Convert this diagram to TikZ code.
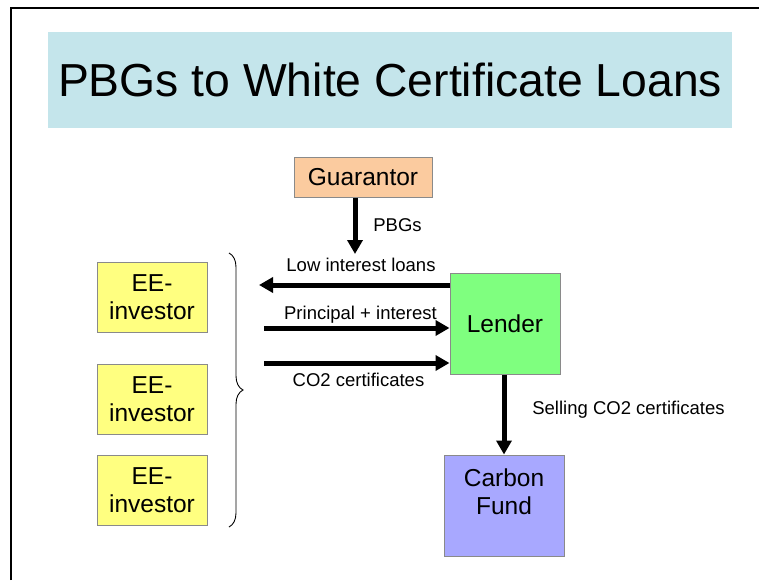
\documentclass[tikz,border=0pt]{standalone}
\usepackage{fontspec}
\setmainfont{Liberation Sans}
\usetikzlibrary{arrows.meta,decorations.pathreplacing}
\definecolor{titlebg}{HTML}{C4E5EB}
\definecolor{guarfill}{HTML}{FBCB9F}
\definecolor{lendfill}{HTML}{7FFF7F}
\definecolor{eefill}{HTML}{FFFF80}
\definecolor{cfill}{HTML}{A8A8FF}
\definecolor{boxline}{HTML}{8A8A8A}
\tikzset{
  box/.style={draw=boxline, line width=1pt, inner sep=0pt, align=center},
  flow/.style={line width=5pt, -{Triangle[length=14pt,width=15pt]}, shorten >=0pt},
  lbl/.style={font=\fontsize{18.5}{22}\selectfont, inner sep=0pt},
  big/.style={font=\fontsize{24.5}{28}\selectfont},
}
\begin{document}
\begin{tikzpicture}[x=1pt,y=-1pt]
\useasboundingbox (0,0) rectangle (759,580);
\fill[white] (0,0) rectangle (759,580);
% frame
\draw[line width=2pt] (11,580) -- (11,8) -- (759,8);
% title
\node[fill=titlebg, minimum width=684pt, minimum height=96pt, inner sep=0pt,
      font=\fontsize{46.3}{50}\selectfont] (title) at (390,80) {PBGs to White Certificate Loans};
% boxes
\node[box, fill=guarfill, minimum width=138pt, minimum height=39pt, big] (guar) at (363,177.5) {Guarantor};
\node[box, fill=lendfill, minimum width=110pt, minimum height=101pt, big] (lender) at (505,323.5) {Lender};
\node[box, fill=cfill, minimum width=120pt, minimum height=101pt] (carbon) at (504,505.5) {};
\node[big, align=center, inner sep=0pt] (ctext) at (504,492) {Carbon\\Fund};
\node[box, fill=eefill, minimum width=110pt, minimum height=70pt, big] (ee1) at (152,297) {EE-\\investor};
\node[box, fill=eefill, minimum width=110pt, minimum height=70pt, big] (ee2) at (152,399) {EE-\\investor};
\node[box, fill=eefill, minimum width=110pt, minimum height=70pt, big] (ee3) at (152,490) {EE-\\investor};
% brace
\coordinate (btop) at (229,253);
\coordinate (bbot) at (229,527);
\draw[line width=0.9pt, decorate, decoration={brace, amplitude=14pt}] (btop) -- (bbot);
% connector ends
\coordinate (pbgend) at (355,254);
\coordinate (lowend) at (259,285);
\coordinate (prstart) at (264,328);
\coordinate (costart) at (264,363);
% arrows
\draw[flow] (guar.south -| pbgend) -- (pbgend);
\draw[flow] (lender.west |- lowend) -- (lowend);
\draw[flow] (prstart) -- (lender.west |- prstart);
\draw[flow] (costart) -- (lender.west |- costart);
\draw[flow] (lender.south -| carbon.north) -- (carbon.north);
% labels
\node[lbl] (lpbg) at (397.5,225) {PBGs};
\node[lbl] (llow) at (361,265) {Low interest loans};
\node[lbl] (lpr) at (360.5,315) {Principal + interest};
\node[lbl] (lco) at (358.5,380) {CO2 certificates};
\node[lbl] (lsell) at (628.5,410) {Selling CO2 certificates};
\end{tikzpicture}
\end{document}
